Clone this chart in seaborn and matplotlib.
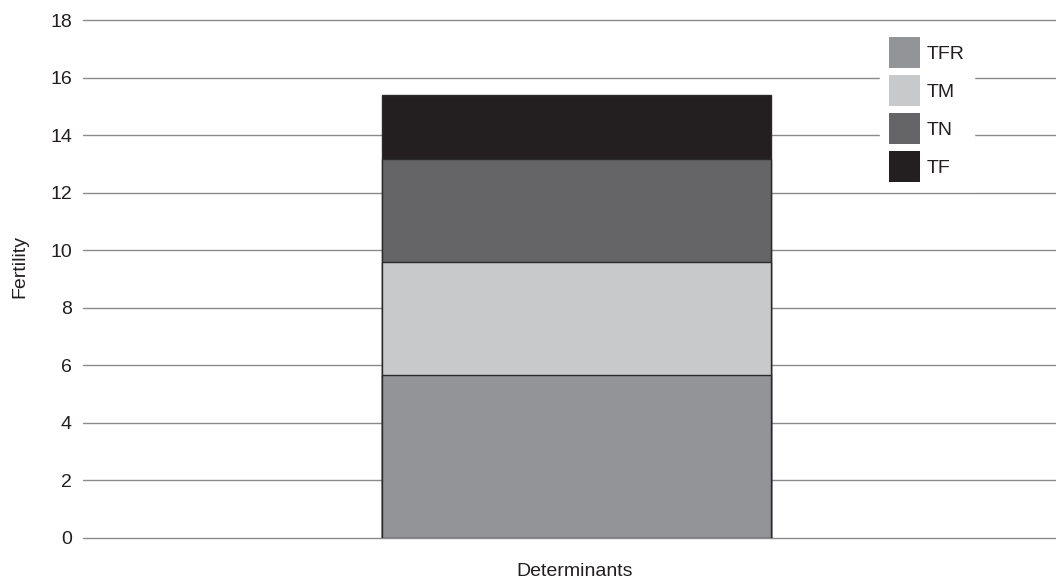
import matplotlib
matplotlib.use("Agg")
import matplotlib.pyplot as plt
import matplotlib.patches as mpatches
import seaborn as sns
import pandas as pd
import numpy as np

categories = ["Determinants"]
series = ["TFR", "TM", "TN", "TF"]
values = [5.66, 3.92, 3.58, 2.22]
colors = ["#939497", "#c8c9cb", "#656567", "#231f20"]
yticks = [0, 2, 4, 6, 8, 10, 12, 14, 16, 18]

sns.set_theme(style="white")
plt.rcParams['font.family'] = ['Liberation Sans', 'DejaVu Sans']

FS = 14
W, H = 1056, 582
fig = plt.figure(figsize=(W / 100, H / 100), dpi=100)
left_px, right_px, top_px, bot_px = 83, 1070, 20, 538
ax = fig.add_axes([left_px / W, 1 - bot_px / H, (right_px - left_px) / W, (bot_px - top_px) / H])

cum = np.cumsum(values)
# draw from the tallest cumulative layer down so lower layers overlay
for i in range(len(series) - 1, -1, -1):
    df = pd.DataFrame({"cat": categories, "val": [cum[i]]})
    sns.barplot(data=df, x="cat", y="val", color=colors[i], saturation=1,
                width=0.79, edgecolor="#2a2a2a", linewidth=1.0, ax=ax, zorder=3)

ax.set_xlim(-1, 1)
ax.set_ylim(0, 18)
ax.set_yticks(yticks)
ax.set_yticklabels([str(t) for t in yticks], fontsize=FS, color="#231f20")
ax.set_xticks([])
ax.tick_params(axis="y", length=0, pad=8)
ax.yaxis.grid(True, color="#8a8a8a", linewidth=1.0, zorder=0)
for gl in ax.get_ygridlines():
    gl.set_clip_on(False)
ax.set_axisbelow(True)
for s in ax.spines.values():
    s.set_visible(False)

ax.set_ylabel("")
ax.set_xlabel("")
fig.text(20 / W, 1 - 267 / H, "Fertility", rotation=90, ha="center", va="center",
         fontsize=FS, color="#231f20")
fig.text(575 / W, 1 - 571 / H, "Determinants", ha="center", va="center",
         fontsize=FS, color="#231f20")

handles = [mpatches.Patch(facecolor=c, edgecolor="none", label=s) for s, c in zip(series, colors)]
leg = fig.legend(handles=handles, loc="upper left",
                 bbox_to_anchor=(880 / W, 1 - 28 / H), bbox_transform=fig.transFigure,
                 frameon=True, fancybox=False, framealpha=1, facecolor="white", edgecolor="white",
                 fontsize=FS, handlelength=1.6, handleheight=2.085, handletextpad=0.36,
                 labelspacing=0.36, borderpad=0.46, borderaxespad=0)
for t in leg.get_texts():
    t.set_color("#231f20")

fig.savefig("out.png", dpi=100, facecolor="white")
